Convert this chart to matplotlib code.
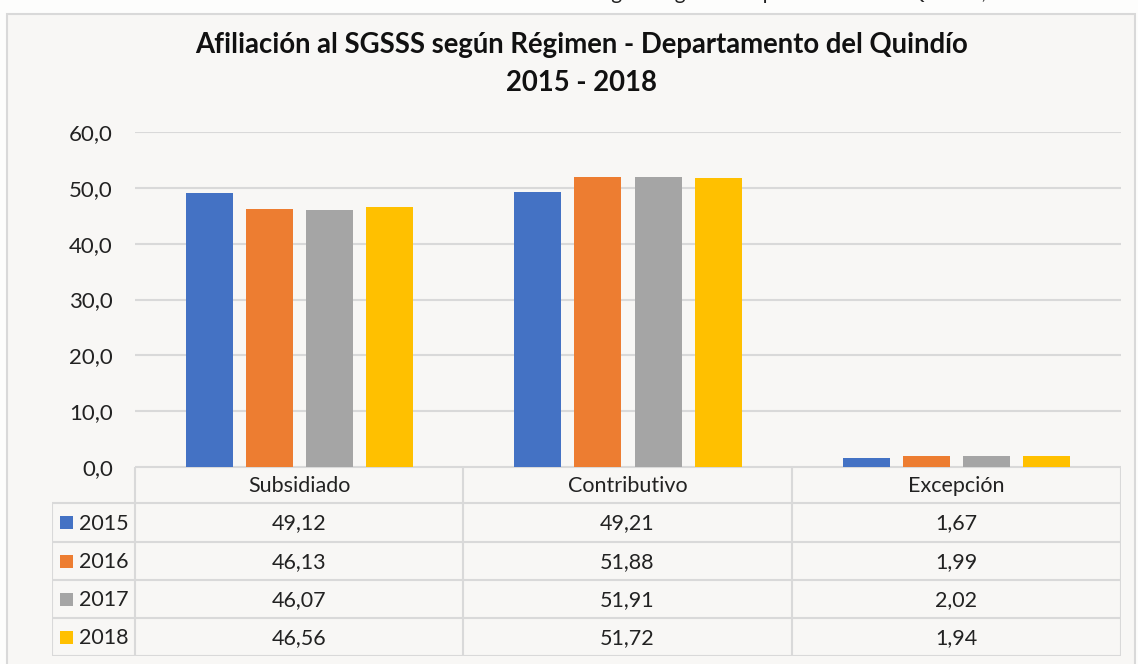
import numpy as np
import matplotlib.pyplot as plt
from matplotlib.patches import Rectangle

# data
categorias = ["Subsidiado", "Contributivo", "Excepción"]
anios = ["2015", "2016", "2017", "2018"]
v2015 = [49.12, 49.21, 1.67]
v2016 = [46.13, 51.88, 1.99]
v2017 = [46.07, 51.91, 2.02]
v2018 = [46.56, 51.72, 1.94]
series = [v2015, v2016, v2017, v2018]
colores = ["#4472C4", "#ED7D31", "#A5A5A5", "#FFC000"]
yticks = [0, 10, 20, 30, 40, 50, 60]

W, H = 1138, 664
plt.rcParams['font.family'] = ['Lato', 'DejaVu Sans']
fig = plt.figure(figsize=(W / 100, H / 100), dpi=100, facecolor="#FDFDFC")

def fx(x):
    return x / W

def fy(y):
    return 1 - y / H

# chart frame
fig.patches.append(Rectangle((fx(7), fy(680)), fx(1135) - fx(7), fy(14) - fy(680),
                             transform=fig.transFigure, facecolor="#F8F7F5",
                             edgecolor="#D9D9D9", lw=1.5, zorder=-5))

# cut-off text line from the page above
fig.text(fx(760), fy(-1), "Afiliación al SGSSS según Régimen Departamento del Quindío, 2015 - 2018",
         ha="center", va="baseline", fontsize=15, color="#222222")

# title
fig.text(fx(582), fy(45), "Afiliación al SGSSS según Régimen - Departamento del Quindío",
         ha="center", va="center", fontsize=19.8, fontweight="bold", color="#111111")
fig.text(fx(582), fy(83), "2015 - 2018",
         ha="center", va="center", fontsize=19.8, fontweight="bold", color="#111111")

# bars
x0, x1, y0, y1 = 135, 1121, 132, 467
ax = fig.add_axes([fx(x0), fy(y1), fx(x1) - fx(x0), fy(y0) - fy(y1)])
ax.set_facecolor("none")
x = np.arange(len(categorias))
ancho = 0.143
paso = 0.183
for i, (vals, c) in enumerate(zip(series, colores)):
    ax.bar(x + (i - 1.5) * paso, vals, ancho, color=c, zorder=3)
ax.set_xlim(-0.5, len(categorias) - 0.5)
ax.set_ylim(0, 60)
ax.set_yticks(yticks)
ax.set_yticklabels([f"{t:.1f}".replace(".", ",") for t in yticks], fontsize=16, color="#222222")
ax.set_xticks([])
ax.grid(axis="y", color="#D9D9D9", lw=1.5, zorder=0)
ax.tick_params(axis="y", length=0, pad=16)
for s in ax.spines.values():
    s.set_visible(False)

# data table
tx0, tx1, ty0, ty1 = 52, 1121, 467, 656
tb = fig.add_axes([fx(tx0), fy(ty1), fx(tx1) - fx(tx0), fy(ty0) - fy(ty1)])
tb.set_xlim(tx0, tx1)
tb.set_ylim(ty1, ty0)
tb.axis("off")
lc = "#D9D9D9"
col_edges = [135, 463, 792, 1121]
row_edges = [467, 503, 542, 580, 618, 656]
# header row
tb.hlines(row_edges[0], col_edges[0], col_edges[-1], color=lc, lw=1.5)
for r in row_edges[1:]:
    tb.hlines(r, tx0, col_edges[-1], color=lc, lw=1.5)
for c in col_edges:
    tb.vlines(c, row_edges[0], row_edges[-1], color=lc, lw=1.5)
tb.vlines(tx0, row_edges[1], row_edges[-1], color=lc, lw=1.5)

fs = 15.5
for j, cat in enumerate(categorias):
    tb.text((col_edges[j] + col_edges[j + 1]) / 2, (row_edges[0] + row_edges[1]) / 2 + 1, cat,
            ha="center", va="center", fontsize=fs, color="#222222")
for i, (anio, vals, c) in enumerate(zip(anios, series, colores)):
    yc = (row_edges[i + 1] + row_edges[i + 2]) / 2
    tb.add_patch(Rectangle((60, yc - 6.5), 13, 13, facecolor=c, edgecolor="none"))
    tb.text(79, yc + 1, anio, ha="left", va="center", fontsize=fs, color="#222222")
    for j, v in enumerate(vals):
        tb.text((col_edges[j] + col_edges[j + 1]) / 2, yc + 1, f"{v:.2f}".replace(".", ","),
                ha="center", va="center", fontsize=fs, color="#222222")

fig.savefig("out.png", dpi=100, facecolor=fig.get_facecolor())
